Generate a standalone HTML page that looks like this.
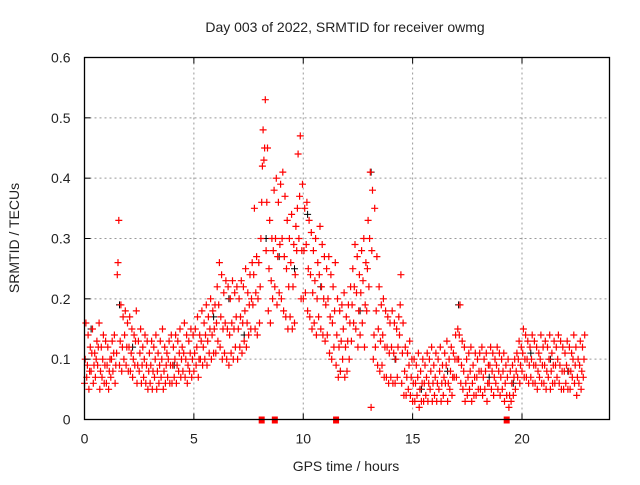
<!DOCTYPE html>
<html><head><meta charset="utf-8"><style>
body{margin:0;background:#fff}
svg text{font-family:"Liberation Sans",sans-serif;fill:#222}
</style></head><body>
<svg id="chart" width="640" height="480" viewBox="0 0 640 480" xmlns="http://www.w3.org/2000/svg">
<text x="345" y="32" font-size="14" text-anchor="middle">Day 003 of 2022, SRMTID for receiver owmg</text>
<text x="19" y="238" font-size="14" text-anchor="middle" transform="rotate(-90 19 238)">SRMTID / TECUs</text>
<text x="346" y="471" font-size="14" text-anchor="middle">GPS time / hours</text>
<g id="grid"></g>
<g id="marks"></g>
<rect x="84.5" y="57.5" width="525" height="362" fill="none" stroke="#000" stroke-width="1.3"/>
<g id="ticks"></g>
</svg>
<script>
const xTicks=[0,5,10,15,20];
const yTicks=[0,0.1,0.2,0.3,0.4,0.5,0.6];
const yTickLabels=["0","0.1","0.2","0.3","0.4","0.5","0.6"];
const startHour=0, stepHour=0.1;
const hiVals=[16,14,12,15,11,13,16,12,14,13,12,10,13,14,11,33,19,17,18,16,17,15,14,18,13,15,12,14,13,11,13,12,14,11,13,15,12,11,13,14,12,14,13,15,12,16,14,13,15,14,15,17,14,18,16,19,17,20,18,19,22,26,24,21,23,22,20,23,21,22,20,23,22,25,21,24,26,35,27,26,30,48,53,45,33,30,38,40,36,39,41,37,33,30,34,29,32,44,47,39,35,36,33,31,28,30,26,32,29,27,25,27,24,22,26,20,18,19,21,17,19,22,25,29,27,24,28,30,26,33,41,38,35,27,22,19,20,18,17,16,18,16,15,17,24,16,12,11,13,10,10,9,11,8,10,9,11,10,12,9,11,10,12,9,11,13,10,12,11,14,15,19,13,12,10,11,12,9,11,10,11,12,10,11,9,12,11,10,12,11,10,11,9,10,8,9,10,11,13,12,15,14,13,12,14,13,12,11,14,12,13,12,14,11,13,12,14,13,12,11,13,12,11,14,12,10,13,12,14];
const midVals=[10,9,8,11,9,10,12,8,10,9,9,8,10,11,9,26,13,12,14,12,12,11,10,13,9,11,9,10,9,8,9,8,10,8,9,10,8,9,10,9,9,10,9,11,10,11,10,9,11,10,11,12,10,13,12,14,13,15,14,15,16,19,17,15,16,15,14,16,15,17,15,17,16,18,16,19,20,24,21,20,22,42,45,36,25,23,28,30,27,29,30,27,25,22,26,22,24,35,37,28,28,29,25,24,21,23,20,24,22,20,19,20,17,16,18,14,12,13,15,12,13,16,19,22,21,18,21,23,19,25,30,28,14,18,15,13,14,12,12,11,12,11,10,12,19,11,8,7,9,7,6,6,7,5,6,6,7,6,8,6,7,6,8,6,7,9,6,8,7,10,10,14,9,8,6,7,8,6,7,7,8,8,7,8,6,9,8,7,9,8,7,8,6,7,4,6,7,8,10,9,11,10,10,9,10,9,9,8,10,9,9,8,10,8,9,9,10,9,8,8,9,8,8,10,9,7,9,8,10];
const loVals=[6,7,5,8,6,7,9,5,7,6,6,5,7,8,6,24,9,8,10,9,8,8,7,9,6,8,6,7,6,5,6,5,7,5,6,7,5,6,7,6,6,7,6,8,7,8,7,6,8,7,8,9,7,10,9,10,9,11,10,11,11,13,12,10,11,10,9,11,10,12,10,12,11,13,12,14,15,19,15,14,16,36,43,28,18,16,20,22,19,21,20,18,17,15,17,15,16,28,30,20,20,21,18,17,15,16,14,17,15,14,13,14,11,10,12,9,7,8,10,7,8,10,13,16,15,12,14,16,12,18,22,2,10,12,9,8,9,7,7,6,7,6,6,7,14,6,4,4,5,4,3,3,4,2,3,3,4,3,5,3,4,3,5,3,4,6,3,5,4,7,7,10,6,5,3,4,5,3,4,4,5,5,4,5,3,6,5,4,6,5,4,5,3,4,2,3,4,5,7,6,8,7,7,6,7,6,6,5,7,6,6,5,7,5,6,6,7,6,5,5,6,5,5,7,6,4,6,5,7];
const blackHours=[0.3,1.6,2.2,4.1,5.9,6.6,7.3,8.3,8.9,9.6,10.2,10.8,11.7,12.6,13.1,14.2,15.4,16.6,17.1,18.5,19.6,20.4,21.3,22.1];
const blackVals=[0.15,0.19,0.12,0.09,0.17,0.2,0.14,0.3,0.27,0.25,0.34,0.22,0.08,0.18,0.41,0.1,0.05,0.08,0.19,0.07,0.06,0.11,0.1,0.08];
const zeroHours=[8.1,8.7,11.5,19.3];

const X0=84.5,X1=609.5,Y0=419.5,Y1=57.5,xMax=24,yMax=0.6;
const xs=h=>X0+(X1-X0)*h/xMax;
const ys=v=>Y0-(Y0-Y1)*v/yMax;
const NS="http://www.w3.org/2000/svg";
const grid=document.getElementById('grid'),ticks=document.getElementById('ticks'),marks=document.getElementById('marks');
function mk(tag,attrs,parent){const e=document.createElementNS(NS,tag);for(const k in attrs)e.setAttribute(k,attrs[k]);parent.appendChild(e);return e;}
yTicks.forEach((v,i)=>{
  const y=ys(v);
  if(v>0&&v<yMax){const g=mk('line',{x1:X0,x2:X1,y1:y,y2:y,stroke:'#999','stroke-dasharray':'2,3'},grid);
  
  }
  const t=mk('line',{x1:X0,x2:X0+6,y1:y,y2:y,stroke:'#000'},ticks);
  
  
  const l=mk('text',{x:X0-14,y:y+5,'font-size':'14','text-anchor':'end'},ticks);
  l.textContent=yTickLabels[i];
  
  
});
xTicks.forEach(h=>{
  const x=xs(h);
  if(h>0){const g=mk('line',{x1:x,x2:x,y1:Y0,y2:Y1,stroke:'#999','stroke-dasharray':'2,3'},grid);
  
  }
  const t=mk('line',{x1:x,x2:x,y1:Y0,y2:Y0-6,stroke:'#000'},ticks);
  
  
  const t2=mk('line',{x1:x,x2:x,y1:Y1,y2:Y1+6,stroke:'#000'},ticks);
  
  
  const l=mk('text',{x:x,y:Y0+24,'font-size':'14','text-anchor':'middle'},ticks);
  l.textContent=String(h);
  
  
});
let d='';
function plus(h,v){const x=xs(h),y=ys(v);return `M${(x-3.5).toFixed(1)} ${y.toFixed(1)}h7M${x.toFixed(1)} ${(y-3.5).toFixed(1)}v7`;}
let db='';
blackHours.forEach((h,i)=>{db+=plus(h,blackVals[i]);});
const pb=mk('path',{d:db,stroke:'#000','stroke-width':'1',fill:'none'},marks);


[[loVals,0],[midVals,0.033],[hiVals,0.066]].forEach(([arr,off])=>{
  arr.forEach((c,i)=>{d+=plus(startHour+i*stepHour+off,c/100);});
});
const pr=mk('path',{d:d,stroke:'#f00','stroke-width':'1.2',fill:'none'},marks);


zeroHours.forEach(h=>{
  const r=mk('rect',{x:xs(h)-3,y:Y0-3,width:6,height:7,fill:'#f00'},marks);
  
  
});
</script>
</body></html>
